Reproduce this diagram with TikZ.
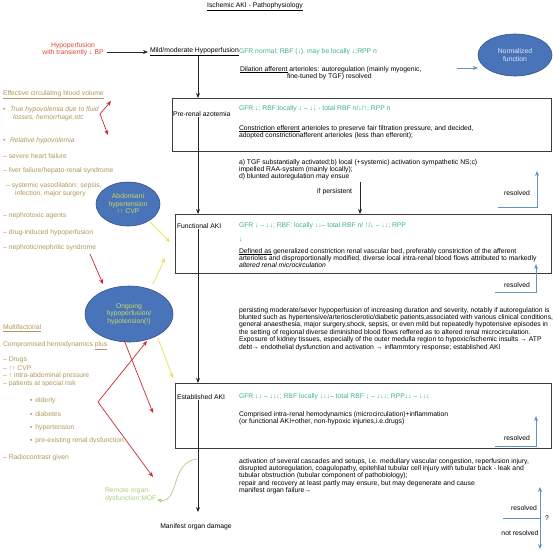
\documentclass[tikz,border=0pt]{standalone}
\usepackage{fontspec}
\setmainfont{Liberation Sans}
\usetikzlibrary{shapes.geometric,arrows.meta}
\definecolor{tgreen}{RGB}{64,178,140}
\definecolor{olivetxt}{RGB}{178,152,90}
\definecolor{hred}{RGB}{222,72,60}
\definecolor{ared}{RGB}{205,40,45}
\definecolor{eblue}{RGB}{74,116,186}
\definecolor{eborder}{RGB}{52,84,138}
\definecolor{etext}{RGB}{200,218,96}
\definecolor{ntext}{RGB}{225,232,245}
\definecolor{yarrow}{RGB}{236,226,70}
\definecolor{rblue}{RGB}{96,146,196}
\definecolor{lgreen}{RGB}{172,208,128}
\definecolor{boxgray}{RGB}{60,60,60}
\begin{document}
\begin{tikzpicture}[x=1pt,y=-1pt,
  every node/.style={inner sep=0pt,outer sep=0pt,font=\fontsize{6.8}{7.4}\selectfont},
  txt/.style={anchor=west,align=left},
  para/.style={anchor=north west,align=left},
  lft/.style={txt,text=olivetxt},
  grn/.style={txt,text=tgreen},
  stagebox/.style={draw=boxgray,line width=0.8pt,anchor=north west},
  blob/.style={ellipse,draw=eborder,line width=0.6pt,fill=eblue,align=center},
  mainarr/.style={-{Stealth[length=5pt,width=4pt]},line width=0.9pt,black!85},
  redarr/.style={-{Stealth[length=5pt,width=4pt]},line width=0.7pt,ared},
  yelarr/.style={-{Stealth[length=5pt,width=4pt]},line width=0.7pt,yarrow},
  bluearr/.style={-{Stealth[length=5pt,width=4pt]},line width=0.7pt,rblue},
  bluearrs/.style={{Stealth[length=5pt,width=4pt]}-{Stealth[length=5pt,width=4pt]},line width=0.7pt,rblue},
]
\fill[white] (0,0) rectangle (553,550);
\useasboundingbox (0,0) rectangle (553,550);
\coordinate (mx) at (198,0);

% title
\node (title) at (255,6.5) {\underline{Ischemic AKI - Pathophysiology}};

% top row
\node[align=center,text=hred] (hypo) at (73,49) {Hypoperfusion\\with transiently ↓ BP};
\node[txt] (mild) at (150,52) {\underline{Mild/moderate Hypoperfusion}};
\draw[mainarr,shorten >=2pt] ([xshift=3pt]hypo.east |- mild.west) -- (mild.west);
\node[grn] (g1) at (239,52) {GFR normal; RBF (↓), may be locally ↓;RPP n};
\node[para] (dil) at (240,66.2) {\underline{Dilation afferent} arterioles: autoregulation (mainly myogenic,\\\hspace*{47pt}fine-tuned by TGF) resolved};
\node[blob,minimum width=74pt,minimum height=42pt,text=ntext] (norm) at (515,55) {Normalized\\function};
\coordinate (nin) at (457,68);
\draw[bluearr] (nin) -- (nin -| norm.west);

% pre-renal box
\node[stagebox,minimum width=379pt,minimum height=53pt] (prebox) at (172,98) {};
\draw[mainarr] (mild.south -| mx) -- (prebox.north -| mx);
\node[txt] (prelabel) at (173,114) {Pre-renal azotemia};
\node[grn] (g2) at (239,109) {GFR ↓;  RBF:locally ↓ – ↓↓ - total RBF n/↓/↑; RPP n};
\node[para] (constr) at (239,125.2) {\underline{Constriction efferent} arterioles to preserve fair filtration pressure, and decided,\\adopted constrictionafferent arterioles (less than efferent);};

\node[para] (tgf) at (239,159.2) {a) TGF substantially activated;b) local (+systemic) activation sympathetic NS;c)\\impelled RAA-system (mainly locally);\\d) blunted autoregulation may ensue};
\node[anchor=east] (ifp) at (352,192) {if persistent};
\node (res1) at (517,193) {resolved};
\coordinate (r1a) at (498,207);
\coordinate (r1b) at (537,207);
\coordinate (r1c) at (537,171);
\draw[bluearr] (r1a) -- (r1b) -- (r1c);

% functional box
\node[stagebox,minimum width=376pt,minimum height=59pt] (funcbox) at (175,214) {};
\draw[mainarr] (prelabel.south -| mx) -- (funcbox.north -| mx);
\coordinate (pa) at (360,182);
\draw[mainarr] (pa) -- (pa |- funcbox.north);
\node[txt] (funclabel) at (177,226) {Functional AKI};
\node[grn] (g3) at (239,226) {GFR ↓ – ↓↓; RBF: locally ↓↓– total RBF n/ ↑/↓ – ↓↓;  RPP};
\node[grn] (g3b) at (239,240) {↓};
\node[para] (defd) at (239,248.2) {\underline{Defined as} generalized constriction renal vascular bed, preferably constriction of the afferent\\arterioles and disproportionally modified, diverse local intra-renal blood flows attributed to markedly\\\textit{altered renal microcirculation}};
\node (res2) at (517,285) {resolved};
\coordinate (r2a) at (495,292);
\coordinate (r2b) at (536,292);
\coordinate (r2c) at (536,264);
\draw[bluearr] (r2a) -- (r2b) -- (r2c);

\node[para] (persist) at (239,307.2) {persisting moderate/sever hypoperfusion of increasing duration and severity, notably if autoregulation is\\blunted such as hypertensive/arteriosclerotic/diabetic patients,associated with various clinical conditions,\\general anaesthesia, major surgery,shock, sepsis, or even mild but repeatedly hypotensive episodes in\\the setting of regional diverse diminished blood flows reffered as to altered renal microcirculation.\\Exposure of kidney tissues, especially of the outer medulla region to hypoxic/ischemic insults → ATP\\debt→ endothelial dysfunction and activation → inflammtory response; established AKI};

% established box
\node[stagebox,minimum width=376pt,minimum height=65pt] (estbox) at (175,383) {};
\draw[mainarr] (funclabel.south -| mx) -- (estbox.north -| mx);
\node[txt] (estlabel) at (177,397) {Established AKI};
\node[grn] (g4) at (239,397) {GFR ↓↓ – ↓↓↓; RBF locally ↓↓↓– total RBF ↓ – ↓↓↓;  RPP↓↓ – ↓↓↓};
\node[para] (compr) at (239,411.2) {Comprised intra-renal hemodynamics (microcirculation)+inflammation\\(or functional AKI+other, non-hypoxic injuries,i.e.drugs)};
\node (res3) at (517,438) {resolved};
\coordinate (r3a) at (495,446);
\coordinate (r3b) at (536,446);
\coordinate (r3c) at (536,416);
\draw[bluearr] (r3a) -- (r3b) -- (r3c);

\node[para] (activ) at (239,458.2) {activation of several cascades and setups, i.e. medullary vascular congestion, reperfusion injury,\\disrupted autoregulation, coagulopathy, epitehlial tubular cell injury with tubular back - leak and\\tubular obstruction (tubular component of pathobiology);\\repair and recovery at least partly may ensure, but may degenerate and cause\\manifest organ failure→};

% bottom
\node (manifest) at (196,527) {Manifest organ damage};
\coordinate (mend) at (198,512);
\draw[mainarr] (estlabel.south -| mx) -- (mend);
\node[para,text=lgreen] (remote) at (105,488.2) {Remote organ\\dysfunction:MOF};
\coordinate (rs) at (197,459);
\coordinate (re) at (157,500);
\draw[lgreen,line width=0.7pt,-{Stealth[length=5pt,width=4pt]}] (rs) .. controls (170,462) and (180,503) .. (re);

\node (res4) at (524,508) {resolved};
\node (notres) at (520,533) {not resolved};
\node (qm) at (547,518) {?};
\coordinate (r4a) at (503,518);
\coordinate (r4b) at (540,518);
\coordinate (r4up) at (540,487);
\coordinate (r4dn) at (540,549);
\draw[rblue,line width=0.7pt] (r4a) -- (r4b);
\draw[bluearrs] (r4up) -- (r4dn);

% left column
\node[lft] (ecbv) at (3,95) {\underline{Effective circulating blood volume}};
\node[lft] (b1) at (3,110) {•};
\node[lft] (l1) at (10,110) {\textit{True hypovolemia due to fluid}};
\node[lft] (l1b) at (13,117.5) {\textit{losses, hemorrhage,etc}};
\node[lft] (b2) at (3,141) {•};
\node[lft] (l2) at (10,141) {\textit{Relative hypovolemia}};
\node[lft] (l3) at (3,156) {–\hspace{2pt}severe heart failure};
\node[lft] (l4) at (3,171) {–\hspace{2pt}liver failure/hepato-renal syndrome};
\node[lft] (l5) at (6,186) {–\hspace{2pt}systemic vasodilation: sepsis,};
\node[lft] (l5b) at (15,194) {infection, major surgery};
\node[lft] (l6) at (3,216) {–\hspace{2pt}nephrotoxic agents};
\node[lft] (l7) at (3,233) {–\hspace{2pt}drug-induced hypoperfusion};
\node[lft] (l8) at (3,248) {–\hspace{2pt}nephrotic/nephritic syndrome};
\node[lft] (mf) at (3,328) {\underline{Multifactorial}};
\node[lft] (cmp) at (3,346) {Compromised hemodynamics \underline{plus}};
\node[lft] (m1) at (3,360) {–\hspace{2pt}Drugs};
\node[lft] (m2) at (3,368) {–\hspace{2pt}↑↑ CVP};
\node[lft] (m3) at (3,376) {–\hspace{2pt}↑ intra-abdominal pressure};
\node[lft] (m4) at (3,384) {–\hspace{2pt}patients at special risk};
\node[lft] (s1) at (30,401) {▪\hspace{3pt}elderly};
\node[lft] (s2) at (30,414) {▪\hspace{3pt}diabetes};
\node[lft] (s3) at (30,428) {▪\hspace{3pt}hypertension};
\node[lft] (s4) at (30,441) {▪\hspace{3pt}pre-existing renal dysfunction};
\node[lft] (m5) at (3,458) {–\hspace{2pt}Radiocontrast given};

% ellipses
\node[blob,minimum width=64pt,minimum height=44pt,text=etext] (abd) at (128,204) {Abdomiani\\hypertension\\↑↑ CVP};
\node[blob,minimum width=88pt,minimum height=56pt,text=etext] (ong) at (129,314) {Ongoing\\hypoperfusion/\\hypotension(!)};

% red arrows
\coordinate (rv1) at (100,114);
\coordinate (rt1) at (111,101);
\coordinate (rt2) at (108,135);
\draw[redarr] (rv1) -- (rt1);
\draw[redarr] (rv1) -- (rt2);
\coordinate (nep) at (90,254);
\coordinate (nept) at (103,284);
\draw[redarr] (nep) -- (nept);
\coordinate (ob) at (124,340);
\coordinate (obt) at (153,413);
\draw[redarr] (ob) -- (obt);
\coordinate (rv2) at (98,402);
\coordinate (rt3) at (147,341);
\coordinate (rt4) at (153,477);
\draw[redarr] (rv2) -- (rt3);
\draw[redarr] (rv2) -- (rt4);

% yellow arrows
\coordinate (ya) at (150,222);
\coordinate (yat) at (170,242);
\draw[yelarr] (ya) -- (yat);
\coordinate (yb) at (153,284);
\coordinate (ybt) at (165,258);
\draw[yelarr] (yb) -- (ybt);
\coordinate (yc) at (158,338);
\coordinate (yct) at (173,378);
\draw[yelarr] (yc) -- (yct);
\end{tikzpicture}
\end{document}
